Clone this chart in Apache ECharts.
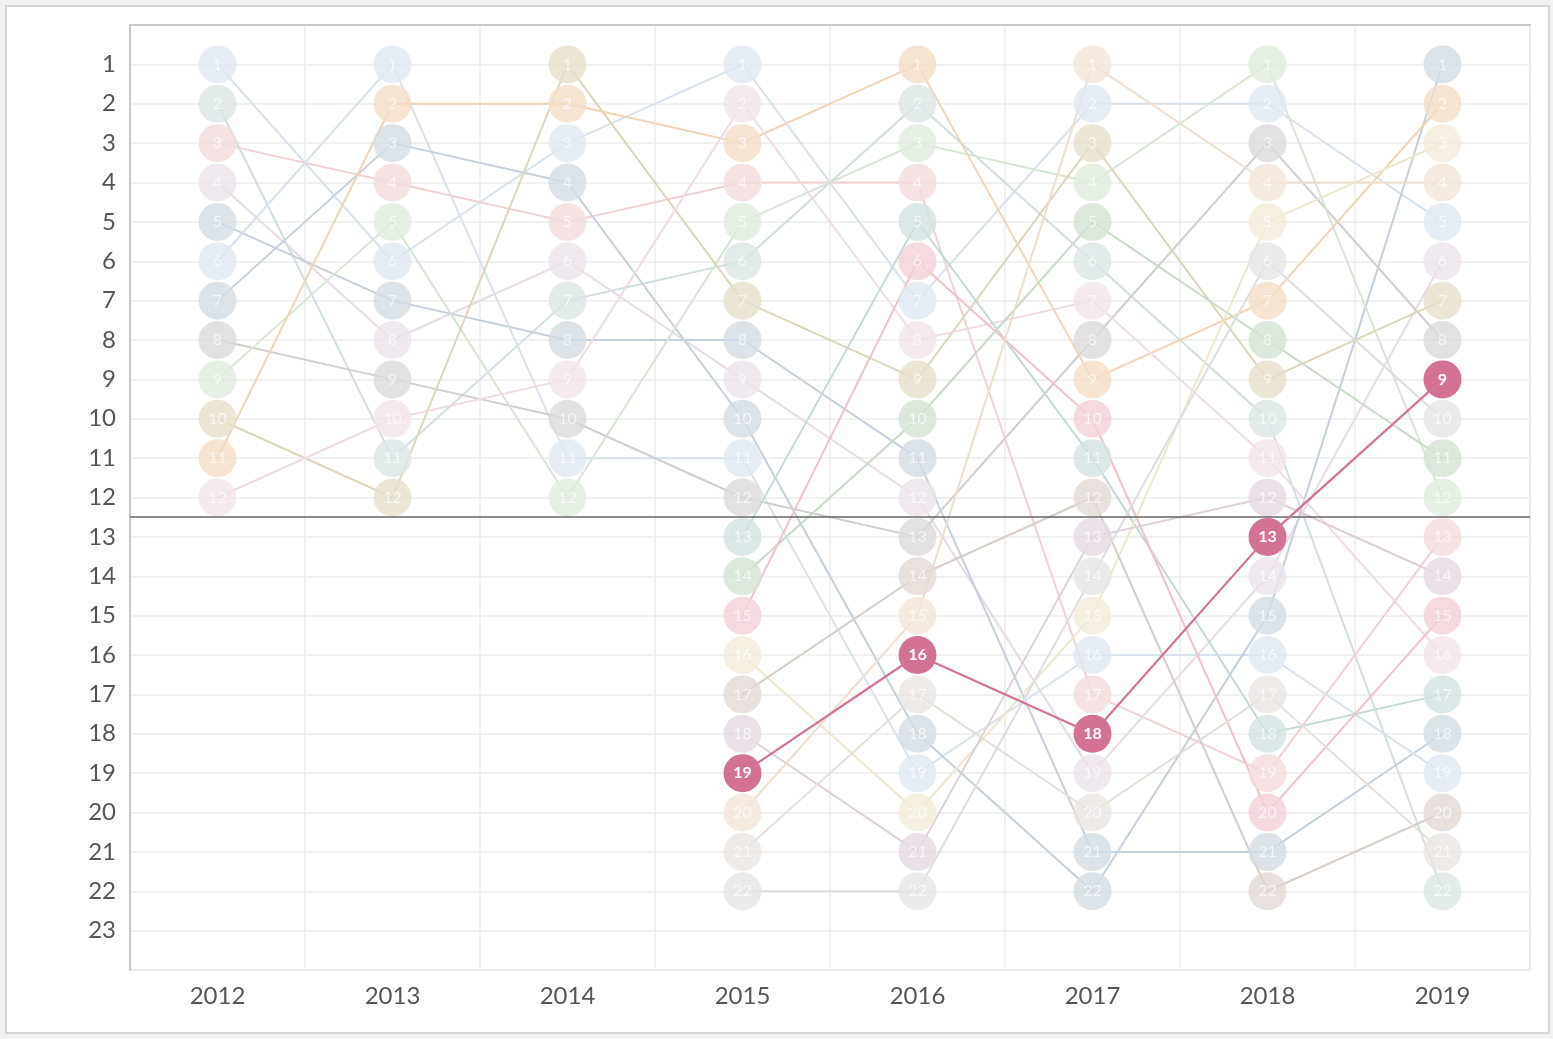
<!DOCTYPE html>
<html>
<head>
<meta charset="utf-8">
<script src="https://cdn.jsdelivr.net/npm/echarts@6/dist/echarts.min.js"></script>
<style>
  html, body { margin: 0; padding: 0; background: #f2f2f2; }
  #frame { position: absolute; left: 5px; top: 5px; width: 1541px; height: 1025px; border: 2px solid #d6d6d6; background: #fff; }
  #chart { width: 100%; height: 100%; }
</style>
</head>
<body>
<div id="frame"><div id="chart"></div></div>
<script>
// years on the x axis
const years = ['2012', '2013', '2014', '2015', '2016', '2017', '2018', '2019'];
const rankTicks = [1, 2, 3, 4, 5, 6, 7, 8, 9, 10, 11, 12, 13, 14, 15, 16, 17, 18, 19, 20, 21, 22, 23];

// rank per year for each team (null = not in the table that year)
const teamA = [1, 6, 3, 1, 7, 2, 2, 5];
const teamB = [2, 11, 7, 6, 2, 6, 10, 22];
const teamC = [3, 4, 5, 4, 4, 17, 19, 13];
const teamD = [4, 8, 6, 9, 12, 19, 14, 6];
const teamE = [5, 7, 8, 8, 11, 21, 21, 18];
const teamF = [6, 1, 11, 11, 19, 16, 16, 19];
const teamG = [7, 3, 4, 10, 18, 22, 15, 1];
const teamH = [8, 9, 10, 12, 13, 8, 3, 8];
const teamI = [9, 5, 12, 5, 3, 4, 1, 12];
const teamJ = [10, 12, 1, 7, 9, 3, 9, 7];
const teamK = [11, 2, 2, 3, 1, 9, 7, 2];
const teamL = [12, 10, 9, 2, 8, 7, 11, 16];
const teamM = [null, null, null, 13, 5, 11, 18, 17];
const teamN = [null, null, null, 14, 10, 5, 8, 11];
const teamO = [null, null, null, 15, 6, 10, 20, 15];
const teamP = [null, null, null, 16, 20, 15, 5, 3];
const teamQ = [null, null, null, 17, 14, 12, 22, 20];
const teamR = [null, null, null, 18, 21, 13, 12, 14];
const teamS = [null, null, null, 19, 16, 18, 13, 9];   // highlighted
const teamT = [null, null, null, 20, 15, 1, 4, 4];
const teamU = [null, null, null, 21, 17, 20, 17, 21];
const teamV = [null, null, null, 22, 22, 14, 6, 10];

const teams = [
  { ranks: teamA, color: '#9bb6d0' }, { ranks: teamB, color: '#8aafac' },
  { ranks: teamC, color: '#d98f8f' }, { ranks: teamD, color: '#c6a5c0' },
  { ranks: teamE, color: '#6c8aa5' }, { ranks: teamF, color: '#9bb6d0' },
  { ranks: teamG, color: '#6c8aa5' }, { ranks: teamH, color: '#8a8487' },
  { ranks: teamI, color: '#9bc091' }, { ranks: teamJ, color: '#ac9855' },
  { ranks: teamK, color: '#d99448' }, { ranks: teamL, color: '#d7a8b9' },
  { ranks: teamM, color: '#6ca29e' }, { ranks: teamN, color: '#76a570' },
  { ranks: teamO, color: '#d86a78' }, { ranks: teamP, color: '#d7c080' },
  { ranks: teamQ, color: '#9e8476' }, { ranks: teamR, color: '#ac87a2' },
  { ranks: teamS, color: '#d37295', highlight: true }, { ranks: teamT, color: '#daac80' },
  { ranks: teamU, color: '#bcac9e' }, { ranks: teamV, color: '#acacac' }
];

// mix a colour with white so faded marks stay opaque
function fade(hex, a) {
  const n = parseInt(hex.slice(1), 16);
  const c = [(n >> 16) & 255, (n >> 8) & 255, n & 255].map(v => Math.round(255 * (1 - a) + v * a));
  return 'rgb(' + c.join(',') + ')';
}

const series = [];
const dots = [];

teams.forEach(t => {
  if (t.highlight) {
    series.push({
      type: 'line', data: t.ranks, z: 5, silent: true, symbol: 'circle', symbolSize: 38,
      connectNulls: false,
      lineStyle: { color: t.color, width: 2.2 },
      itemStyle: { color: t.color },
      label: { show: true, position: 'inside', color: '#fff', fontSize: 16, fontWeight: 'bold', fontFamily: 'Lato', formatter: p => p.value }
    });
    return;
  }
  series.push({
    type: 'line', data: t.ranks, z: 2, silent: true, showSymbol: false,
    lineStyle: { color: fade(t.color, 0.4), width: 2 }
  });
  t.ranks.forEach((r, i) => {
    if (r != null) dots.push({ value: [i, r], itemStyle: { color: fade(t.color, 0.3) } });
  });
});

series.push({
  type: 'scatter', data: dots, z: 3, silent: true, symbolSize: 38,
  label: { show: true, position: 'inside', color: 'rgba(255,255,255,0.9)', fontSize: 16, fontFamily: 'Lato', formatter: p => p.value[1] },
  markLine: {
    silent: true, symbol: 'none', z: 4,
    lineStyle: { color: '#666', width: 1.6, type: 'solid' },
    label: { show: false },
    data: [{ yAxis: 12.5 }]
  }
});

const chart = echarts.init(document.getElementById('chart'));
chart.setOption({
  animation: false,
  backgroundColor: '#fff',
  grid: { left: 123, top: 18, width: 1400, height: 945, show: true, borderColor: '#c8c8c8', borderWidth: 1, backgroundColor: '#fff' },
  xAxis: {
    type: 'category', data: years, boundaryGap: true,
    axisLine: { lineStyle: { color: '#c8c8c8', width: 2 } },
    axisTick: { show: false },
    axisLabel: { color: '#555', fontSize: 24, fontFamily: 'Lato', margin: 14 },
    splitLine: { show: true, interval: 0, lineStyle: { color: '#ececec', width: 1.5 } }
  },
  yAxis: {
    type: 'value', inverse: true, min: 0, max: 24, interval: 1,
    axisLine: { show: true, lineStyle: { color: '#c8c8c8', width: 2 } },
    axisTick: { show: false },
    axisLabel: { color: '#555', fontSize: 24, fontFamily: 'Lato', margin: 14,
      formatter: v => rankTicks.indexOf(v) >= 0 ? String(v) : '' },
    splitLine: { show: true, lineStyle: { color: '#ececec', width: 1.5 } }
  },
  series: series
});
</script>
</body>
</html>
